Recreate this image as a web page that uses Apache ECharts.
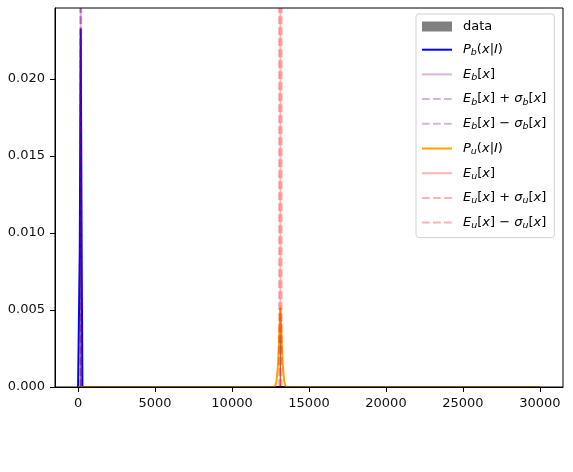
<!DOCTYPE html>
<html>
<head>
<meta charset="utf-8">
<script src="https://cdn.jsdelivr.net/npm/echarts@6/dist/echarts.min.js"></script>
<style>html,body{margin:0;padding:0;background:#fff;}#c{width:573px;height:472px;}</style>
</head>
<body>
<div id="c"></div>
<script>
// ---- data ----
const xTicks = [0, 5000, 10000, 15000, 20000, 25000, 30000];
const yTicks = [0, 0.005, 0.010, 0.015, 0.020];
const xRange = [-1500, 31500];
const yRange = [0, 0.0246];

const histX = [170, 13140];
const histY = [0.0225, 0.0049];

const pbX = [0, 60, 110, 170, 230, 280, 30000];
const pbY = [0, 0, 0.009, 0.0232, 0.009, 0, 0];

const puX = [0, 12780, 12880, 12990, 13070, 13140, 13210, 13290, 13400, 13500, 30000];
const puY = [0, 0, 0.0003, 0.0015, 0.0035, 0.0051, 0.0035, 0.0015, 0.0003, 0, 0];

const Eb = 170, sigmaB = 30;
const Eu = 13140, sigmaU = 80;

// ---- build ----
const zip = (xs, ys) => xs.map((x, i) => [x, ys[i]]);
const vline = x => [[x, yRange[0]], [x, yRange[1]]];
const dash = [7.7, 3.3];
const plum = 'rgba(128,0,128,0.3)';
const pink = 'rgba(255,0,0,0.3)';

const labels = {
  'data': '{g| }{n|data}',
  'P_b(x|I)': '{g| }{i|P}{s|b}{n|(}{i|x}{n||}{i|I}{n|)}',
  'E_b[x]': '{g| }{i|E}{s|b}{n|[}{i|x}{n|]}',
  'E_b[x]+σ_b[x]': '{g| }{i|E}{s|b}{n|[}{i|x}{n|] + }{i|σ}{s|b}{n|[}{i|x}{n|]}',
  'E_b[x]−σ_b[x]': '{g| }{i|E}{s|b}{n|[}{i|x}{n|] − }{i|σ}{s|b}{n|[}{i|x}{n|]}',
  'P_u(x|I)': '{g| }{i|P}{s|u}{n|(}{i|x}{n||}{i|I}{n|)}',
  'E_u[x]': '{g| }{i|E}{s|u}{n|[}{i|x}{n|]}',
  'E_u[x]+σ_u[x]': '{g| }{i|E}{s|u}{n|[}{i|x}{n|] + }{i|σ}{s|u}{n|[}{i|x}{n|]}',
  'E_u[x]−σ_u[x]': '{g| }{i|E}{s|u}{n|[}{i|x}{n|] − }{i|σ}{s|u}{n|[}{i|x}{n|]}'
};

function lineSeries(name, data, color, type) {
  return {
    name: name, type: 'line', data: data, symbol: 'none', silent: true,
    lineStyle: { color: color, width: 2, type: type || 'solid', join: 'round' },
    itemStyle: { color: color },
    animation: false
  };
}

const font = 'DejaVu Sans';
const lineNames = ['P_b(x|I)', 'E_b[x]', 'E_b[x]+σ_b[x]', 'E_b[x]−σ_b[x]',
  'P_u(x|I)', 'E_u[x]', 'E_u[x]+σ_u[x]', 'E_u[x]−σ_u[x]'];

const chart = echarts.init(document.getElementById('c'), null, { renderer: 'canvas' });
chart.setOption({
  animation: false,
  grid: { left: 55, top: 8, right: 10, bottom: 85, show: true, borderColor: '#000', borderWidth: 1, backgroundColor: 'transparent', z: 10 },
  xAxis: {
    type: 'value', min: xRange[0], max: xRange[1], z: 10,
    splitLine: { show: false },
    axisLine: { show: true, onZero: false, lineStyle: { color: '#000', width: 1 } },
    axisTick: { show: true, inside: false, length: 5, customValues: xTicks, lineStyle: { color: '#000' } },
    axisLabel: { customValues: xTicks, margin: 10, color: '#111', fontFamily: font, fontSize: 13, formatter: v => String(v) }
  },
  yAxis: {
    type: 'value', min: yRange[0], max: yRange[1], z: 10,
    splitLine: { show: false },
    axisLine: { show: true, onZero: false, lineStyle: { color: '#000', width: 1 } },
    axisTick: { show: true, inside: false, length: 5, customValues: yTicks, lineStyle: { color: '#000' } },
    axisLabel: { customValues: yTicks, margin: 10, color: '#111', fontFamily: font, fontSize: 13, formatter: v => v.toFixed(3) }
  },
  legend: {
    orient: 'vertical', left: 416, top: 14,
    padding: [6, 8, 7, 5],
    itemGap: 10.2, itemWidth: 30, itemHeight: 10,
    borderColor: 'rgba(204,204,204,0.9)', borderWidth: 1, borderRadius: 3,
    backgroundColor: 'rgba(255,255,255,0.8)',
    selectedMode: false,
    data: [{ name: 'data', icon: 'rect' }].concat(lineNames.map(n => ({ name: n, itemStyle: { opacity: 0 } }))),
    formatter: name => labels[name] || name,
    textStyle: {
      color: '#000', fontFamily: font, fontSize: 13,
      rich: {
        g: { width: 6, fontSize: 13, lineHeight: 16 },
        n: { fontFamily: font, fontSize: 13, lineHeight: 16, color: '#000' },
        i: { fontFamily: font, fontStyle: 'italic', fontSize: 13, lineHeight: 16, color: '#000' },
        s: { fontFamily: font, fontStyle: 'italic', fontSize: 9.5, lineHeight: 9, verticalAlign: 'bottom', color: '#000' }
      }
    }
  },
  series: [
    { name: 'data', type: 'bar', data: zip(histX, histY), barWidth: 1, itemStyle: { color: '#808080' }, silent: true },
    lineSeries('P_b(x|I)', zip(pbX, pbY), '#0000ff'),
    lineSeries('E_b[x]', vline(Eb), plum),
    lineSeries('E_b[x]+σ_b[x]', vline(Eb + sigmaB), plum, dash),
    lineSeries('E_b[x]−σ_b[x]', vline(Eb - sigmaB), plum, dash),
    lineSeries('P_u(x|I)', zip(puX, puY), '#ffa500'),
    lineSeries('E_u[x]', vline(Eu), pink),
    lineSeries('E_u[x]+σ_u[x]', vline(Eu + sigmaU), pink, dash),
    lineSeries('E_u[x]−σ_u[x]', vline(Eu - sigmaU), pink, dash)
  ]
});
</script>
</body>
</html>
